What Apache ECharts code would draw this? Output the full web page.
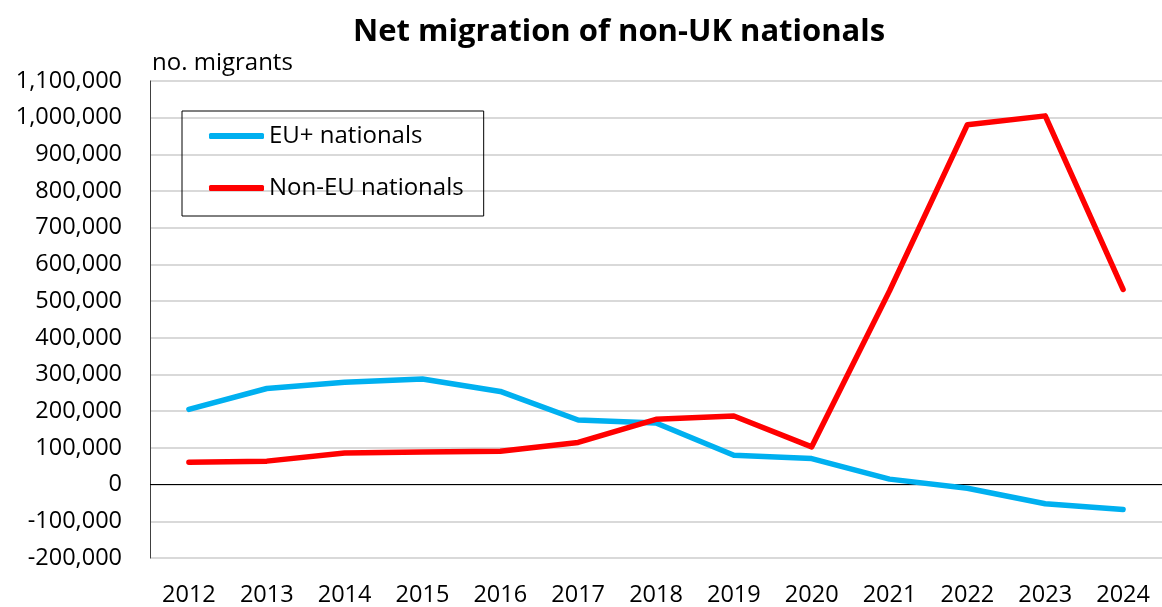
<!DOCTYPE html>
<html>
<head>
<meta charset="utf-8">
<script src="https://cdn.jsdelivr.net/npm/echarts@6/dist/echarts.min.js"></script>
<style>
html,body{margin:0;padding:0;background:#fff;}
#chart{width:1162px;height:607px;}
</style>
</head>
<body>
<div id="chart"></div>
<script>
const years = ['2012','2013','2014','2015','2016','2017','2018','2019','2020','2021','2022','2023','2024'];
const euNationals = [205000, 262000, 279000, 288000, 254000, 176000, 168000, 80000, 71000, 15000, -10000, -52000, -68000];
const nonEuNationals = [61000, 64000, 86000, 89000, 91000, 115000, 178000, 187000, 103000, 528000, 981000, 1005000, 532000];
const yMin = -200000, yMax = 1100000, yStep = 100000;
const FONT = '"Open Sans"';

const chart = echarts.init(document.getElementById('chart'), null, {renderer:'canvas'});
chart.setOption({
  backgroundColor:'#ffffff',
  animation:false,
  title:{
    text:'Net migration of non-UK nationals',
    left:348, top:12,
    textStyle:{fontFamily:FONT, fontSize:31, fontWeight:'bold', color:'#000'}
  },
  legend:{
    orient:'vertical',
    left:182, top:111,
    padding:[13,20,16,27],
    itemGap:28,
    itemWidth:55, itemHeight:6,
    icon:'roundRect',
    borderColor:'#000', borderWidth:1,
    textStyle:{fontFamily:FONT, fontSize:24, color:'#000'},
    data:[{name:'EU+ nationals'},{name:'Non-EU nationals'}]
  },
  grid:{left:150, top:81, width:1021, height:480, containLabel:false},
  xAxis:{
    type:'category',
    data:years,
    boundaryGap:true,
    axisLine:{show:false},
    axisTick:{show:false},
    axisLabel:{fontFamily:FONT, fontSize:23.5, color:'#000', margin:25}
  },
  yAxis:{
    type:'value',
    min:yMin, max:yMax, interval:yStep,
    name:'no. migrants',
    nameLocation:'end',
    nameGap:18,
    nameTextStyle:{fontFamily:FONT, fontSize:24, color:'#000', align:'left', verticalAlign:'middle', padding:[0,0,0,2]},
    axisLine:{show:true, lineStyle:{color:'#404040', width:1}},
    axisTick:{show:false},
    splitLine:{lineStyle:{color:'#d9d9d9', width:2}},
    axisLabel:{
      fontFamily:FONT, fontSize:23.5, color:'#000', margin:28,
      formatter:v => v.toLocaleString('en-US')
    }
  },
  series:[
    {
      name:'EU+ nationals', type:'line', data:euNationals,
      showSymbol:false, symbol:'none',
      lineStyle:{color:'#00B0F0', width:5.5, cap:'round', join:'round'},
      itemStyle:{color:'#00B0F0'},
      z:3,
      markLine:{
        silent:true, symbol:'none', label:{show:false},
        lineStyle:{color:'#000', width:1, type:'solid'},
        data:[{yAxis:0}], z:1
      }
    },
    {
      name:'Non-EU nationals', type:'line', data:nonEuNationals,
      showSymbol:false, symbol:'none',
      lineStyle:{color:'#FF0000', width:5.5, cap:'round', join:'round'},
      itemStyle:{color:'#FF0000'},
      z:4
    }
  ]
});
</script>
</body>
</html>
